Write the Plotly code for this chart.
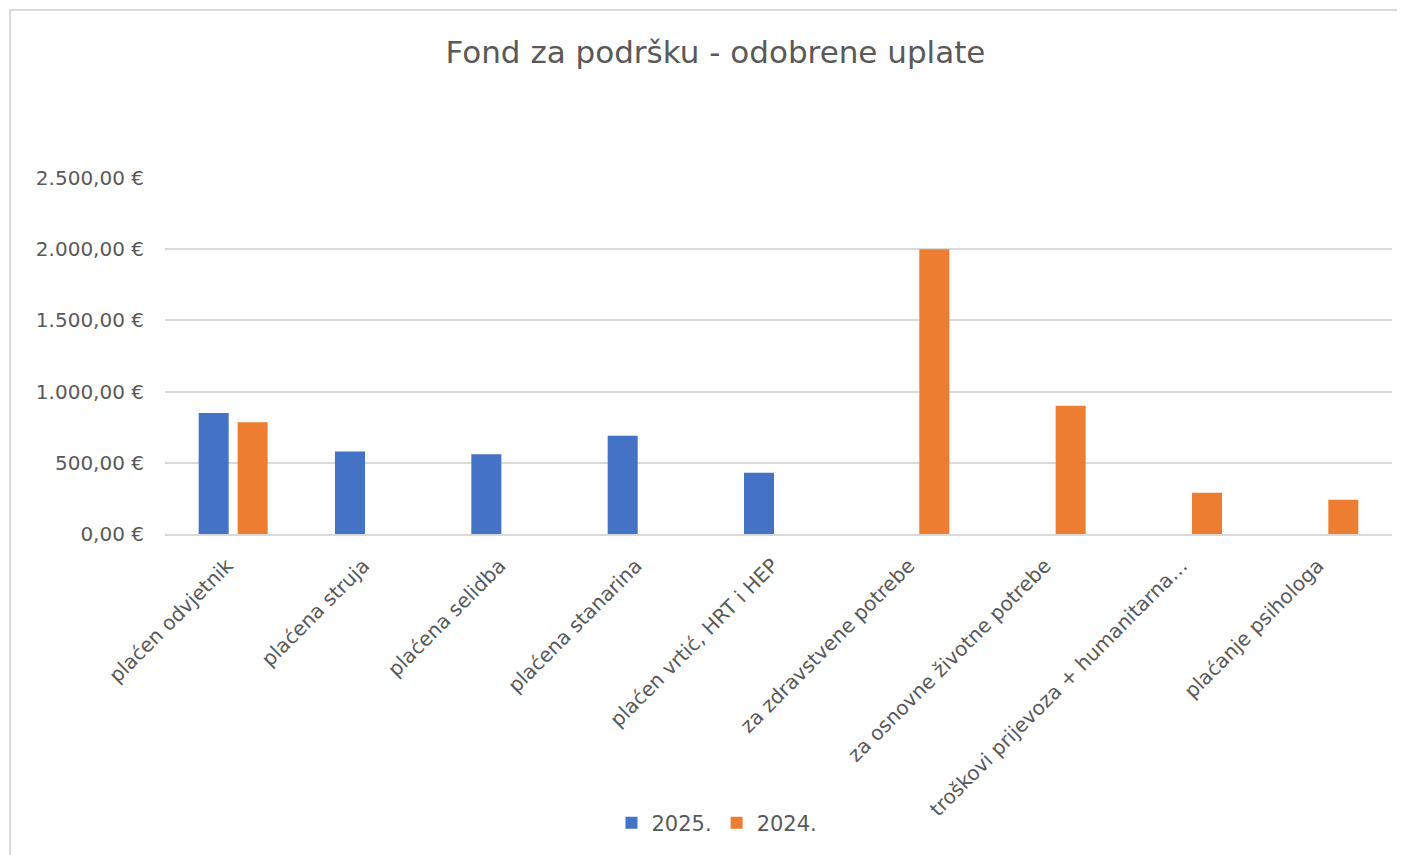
import plotly.graph_objects as go

categories = [
    "plaćen odvjetnik",
    "plaćena struja",
    "plaćena selidba",
    "plaćena stanarina",
    "plaćen vrtić, HRT i HEP",
    "za zdravstvene potrebe",
    "za osnovne životne potrebe",
    "troškovi prijevoza + humanitarna…",
    "plaćanje psihologa",
]
values_2025 = [850, 580, 560, 690, 430, None, None, None, None]
values_2024 = [785, None, None, None, None, 2000, 900, 290, 240]
y_ticks = [0, 500, 1000, 1500, 2000, 2500]
y_tick_labels = ["0,00 €", "500,00 €", "1.000,00 €", "1.500,00 €", "2.000,00 €", "2.500,00 €"]

FONT = "DejaVu Sans, Noto Sans, sans-serif"
TXT = "#595959"
W, H = 1397, 847  # page adds 8px body margin

fig = go.Figure()
fig.add_trace(go.Bar(name="2025.", x=categories, y=values_2025, marker_color="#4472C4",
                     marker_line_width=0))
fig.add_trace(go.Bar(name="2024.", x=categories, y=values_2024, marker_color="#ED7D31",
                     marker_line_width=0))

# chart-area border (decorative)
fig.add_shape(type="rect", xref="paper", yref="paper",
              x0=(2 - 157) / 1227, x1=(1420 - 157) / 1227,
              y0=(526 - 870) / 356, y1=(526 - 2) / 356,
              line=dict(color="#D9D9D9", width=2), fillcolor="rgba(0,0,0,0)", layer="below")

fig.update_layout(
    width=W, height=H,
    paper_bgcolor="white", plot_bgcolor="white",
    margin=dict(l=157, r=13, t=170, b=321, autoexpand=False),
    barmode="group", bargap=0.428, bargroupgap=0.23,
    font=dict(family=FONT, color=TXT, size=20),
    title=dict(text="Fond za podršku - odobrene uplate", xref="container", x=707.5 / W,
               xanchor="center", y=1 - 44 / H, yanchor="middle",
               font=dict(size=31, color=TXT, family=FONT)),
    legend=dict(orientation="h", xref="container", x=709 / W, xanchor="center",
                yref="container", y=1 - 815 / H, yanchor="middle",
                bgcolor="rgba(0,0,0,0)",
                font=dict(size=21, color=TXT), itemwidth=30, traceorder="normal"),
    showlegend=True,
)
fig.update_xaxes(tickangle=-45, showgrid=False, showline=True, linecolor="#D9D9D9",
                 linewidth=2, ticks="", ticklabelstandoff=10, ticklabelshift=-6,
                 automargin=False, tickfont=dict(size=20, color=TXT))
fig.update_yaxes(range=[0, 2500], tickvals=y_ticks, ticktext=y_tick_labels,
                 showgrid=True, gridcolor="#D9D9D9", gridwidth=2, zeroline=False,
                 showline=False, ticks="", ticklabelstandoff=20, automargin=False,
                 tickfont=dict(size=20, color=TXT))

fig.write_html("out.html")
